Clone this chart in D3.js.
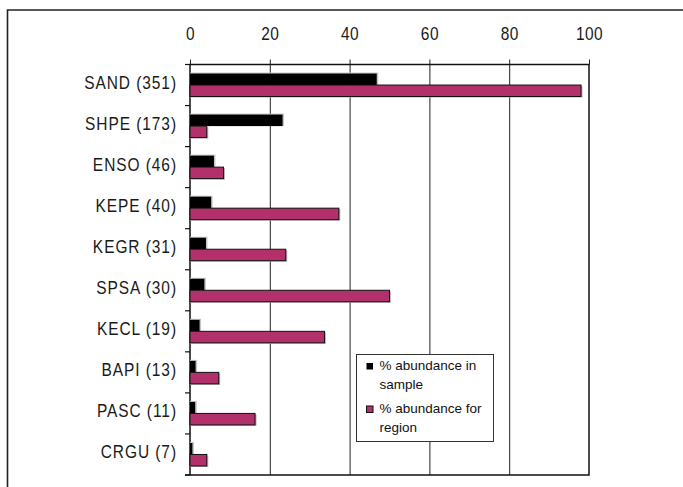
<!DOCTYPE html>
<html>
<head>
<meta charset="utf-8">
<script src="https://cdn.jsdelivr.net/npm/d3@7"></script>
<style>
  html, body { margin: 0; padding: 0; background: #fff; }
  svg { display: block; }
  .cat { font-family: "Liberation Sans", Arial, sans-serif; font-size: 18px; fill: #1a1a1a; letter-spacing: 1.1px; }
  .leg { font-family: "Liberation Sans", Arial, sans-serif; font-size: 13.5px; fill: #111; }
</style>
</head>
<body>
<svg id="chart" width="683" height="487"></svg>
<script>
// Species codes with sample counts
const categories = ["SAND (351)", "SHPE (173)", "ENSO (46)", "KEPE (40)", "KEGR (31)",
                    "SPSA (30)", "KECL (19)", "BAPI (13)", "PASC (11)", "CRGU (7)"];
// % abundance in sample
const sampleValues = [46.8, 23.2, 6.0, 5.3, 4.0, 3.6, 2.4, 1.4, 1.3, 0.6];
// % abundance for region
const regionValues = [98.0, 4.2, 8.4, 37.3, 24.0, 50.0, 33.7, 7.2, 16.3, 4.2];
const tickValues = [0, 20, 40, 60, 80, 100];
const seriesNames = ["% abundance in sample", "% abundance for region"];

const svg = d3.select("#chart");
const W = 683, H = 487;
const plot = { left: 190, right: 589, top: 64.5, bottom: 475 };
const pink = "#b3316a";
const narrow = 0.86; // horizontal squeeze for the condensed axis lettering

// Outer frame (open to the right and bottom edges)
svg.append("path")
  .attr("d", `M7.5,${H + 5} V10 H${W + 5}`)
  .attr("fill", "none").attr("stroke", "#222").attr("stroke-width", 1.6);

const x = d3.scaleLinear().domain([0, 100]).range([plot.left, plot.right]);
const y = d3.scaleBand().domain(categories).range([plot.top, plot.bottom])
  .paddingInner(0.44).paddingOuter(0.22);
const sub = d3.scaleBand().domain([0, 1]).range([0, y.bandwidth()]);

// Vertical grid lines
svg.append("g").selectAll("line").data(tickValues.slice(1, -1)).join("line")
  .attr("x1", d => x(d) + 0.5).attr("x2", d => x(d) + 0.5)
  .attr("y1", plot.top).attr("y2", plot.bottom)
  .attr("stroke", "#222").attr("stroke-width", 1);

// Plot box
svg.append("rect")
  .attr("x", plot.left).attr("y", plot.top)
  .attr("width", plot.right - plot.left).attr("height", plot.bottom - plot.top)
  .attr("fill", "none").attr("stroke", "#111").attr("stroke-width", 1.5);
svg.append("line")
  .attr("x1", plot.left - 5).attr("x2", plot.left)
  .attr("y1", plot.bottom).attr("y2", plot.bottom)
  .attr("stroke", "#111").attr("stroke-width", 1.5);

// Top value axis
const xAxis = d3.axisTop(x).tickValues(tickValues).tickSize(5).tickFormat(() => "");
const gx = svg.append("g").attr("transform", `translate(0,${plot.top})`).call(xAxis);
gx.select(".domain").remove();
gx.selectAll("line").attr("stroke", "#222");
gx.selectAll(".tick").append("text")
  .attr("class", "cat")
  .attr("transform", `translate(0,-29) scale(${narrow},1)`)
  .attr("text-anchor", "middle")
  .attr("dominant-baseline", "middle")
  .style("letter-spacing", "0.5px")
  .text(d => d);

// Left category axis: ticks at band boundaries
const boundaries = d3.range(categories.length + 1)
  .map(i => plot.top + i * (plot.bottom - plot.top) / categories.length);
svg.append("g").selectAll("line").data(boundaries).join("line")
  .attr("x1", plot.left - 5).attr("x2", plot.left)
  .attr("y1", d => d).attr("y2", d => d)
  .attr("stroke", "#111").attr("stroke-width", 1.2);

svg.append("g").selectAll("text").data(categories).join("text")
  .attr("class", "cat")
  .attr("transform", d => `translate(${plot.left - 13},${y(d) + y.bandwidth() / 2 - 1}) scale(${narrow},1)`)
  .attr("text-anchor", "end")
  .attr("dominant-baseline", "middle")
  .text(d => d);

// Bars
const rows = categories.map((c, i) => ({ c, s: sampleValues[i], r: regionValues[i] }));
const gb = svg.append("g");

// soft shadows
gb.selectAll(".shadowS").data(rows).join("rect")
  .attr("x", x(0)).attr("y", d => y(d.c) + sub(0) - 1)
  .attr("width", d => x(d.s) - x(0) + 1.5).attr("height", sub.bandwidth() + 1)
  .attr("fill", "#c4c4c4");
gb.selectAll(".shadowR").data(rows).join("rect")
  .attr("x", x(0)).attr("y", d => y(d.c) + sub(1) + 1)
  .attr("width", d => x(d.r) - x(0) + 1.5).attr("height", sub.bandwidth())
  .attr("fill", "#b8b8b8");

gb.selectAll(".barS").data(rows).join("rect")
  .attr("x", x(0)).attr("y", d => y(d.c) + sub(0))
  .attr("width", d => x(d.s) - x(0)).attr("height", sub.bandwidth())
  .attr("fill", "#000");
gb.selectAll(".barR").data(rows).join("rect")
  .attr("x", x(0)).attr("y", d => y(d.c) + sub(1))
  .attr("width", d => x(d.r) - x(0)).attr("height", sub.bandwidth())
  .attr("fill", pink).attr("stroke", "#111").attr("stroke-width", 1);

// Legend
const lg = svg.append("g").attr("transform", "translate(356.5,354.5)");
lg.append("rect").attr("width", 137).attr("height", 87)
  .attr("fill", "#fff").attr("stroke", "#333").attr("stroke-width", 1);
const legendItems = [
  { lines: ["% abundance in", "sample"], fill: "#000", stroke: "none" },
  { lines: ["% abundance for", "region"], fill: pink, stroke: "#111" }
];
legendItems.forEach((it, i) => {
  const top = 12 + i * 43;
  lg.append("rect").attr("x", 10).attr("y", top - 3.5).attr("width", 6.5).attr("height", 6.5)
    .attr("fill", it.fill).attr("stroke", it.stroke).attr("stroke-width", 1);
  it.lines.forEach((t, j) => {
    lg.append("text").attr("class", "leg")
      .attr("x", 23).attr("y", top + j * 18.5)
      .attr("dominant-baseline", "middle")
      .text(t);
  });
});
</script>
</body>
</html>
